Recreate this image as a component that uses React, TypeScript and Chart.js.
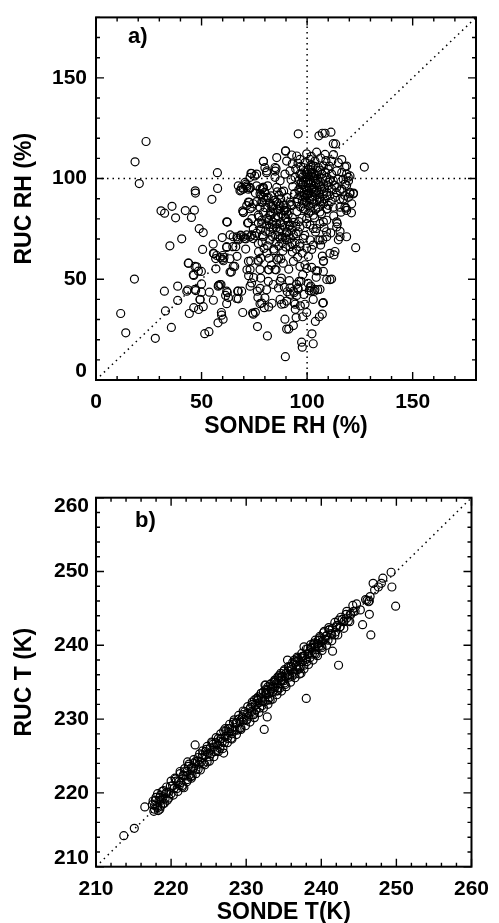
import React, { useEffect, useRef } from "react";
import { Chart, registerables } from "chart.js";

Chart.register(...registerables);

// ---------- data ----------
const rhTicks = [0, 50, 100, 150];
const tTicks = [210, 220, 230, 240, 250, 260];

const rhDiagonal: [number, number][] = [[0, 0], [180, 180]];
const rhVertical: [number, number][] = [[100, 0], [100, 180]];
const rhHorizontal: [number, number][] = [[0, 100], [180, 100]];
const tDiagonal: [number, number][] = [[210, 210], [260, 260]];

// SONDE RH (%), RUC RH (%)
const rhPairs: [number, number][] = [
  [23.7,118.4],[18.5,108.3],[20.5,97.5],[18.2,50.1],[11.7,33],[14.1,23.4],[28.1,20.7],[32.4,44.1],[32.9,34.3],[35.7,26.1],
  [30.8,84],[32.5,82.8],[36,86.2],[37.7,80.5],[35,66.6],[40.6,70.1],[38.7,46.6],[38.7,39.5],[43.9,58],[42.3,84.1],
  [45.2,80.7],[46.6,84.3],[47,93.9],[47.1,92.8],[46.3,51.9],[47.7,56.2],[43.5,44.8],[44.2,33],[46.3,35.9],[47.2,44.4],
  [48.9,75.1],[50.8,73.2],[50.5,64.8],[49.9,53.9],[50,47.7],[49.3,39.9],[48.6,35],[50.8,36.4],[51.5,23],[53.5,24],
  [53.7,43.6],[54.9,89.7],[55.5,67.5],[55.9,62.7],[56.7,60.3],[56.8,55.2],[57.5,102.9],[57.6,95.1],[57.8,28.4],[58.1,47],
  [59.2,47.4],[58.9,60.8],[59.4,33.5],[59.5,32.2],[60.2,30.2],[59.8,70.7],[60,59.9],[60.6,60.8],[61.4,42],[62.2,43.4],
  [61.9,37.9],[61.9,65.8],[62.2,78.4],[64.1,53.6],[65.7,56.4],[66.2,66.2],[66.8,61.4],[67.1,44.1],[67.4,40.3],[66.8,71.1],
  [68.5,71.9],[68.2,93.9],[69,44.1],[69.5,33.5],[69.5,84],[69.8,83.1],[70.3,70.2],[71,70.1],[70.9,65],[71.5,54.7],
  [71.8,77.9],[71,97.2],[71.4,95.6],[72.2,94.7],[72.6,88.2],[72.3,51.8],[73.3,59.1],[73.7,48.2],[73.4,102.6],[74.2,33.2],
  [74.5,32.7],[75.5,33.6],[74.7,50.8],[74.4,70.2],[74.5,75.1],[75.2,101.3],[75.5,92.8],[76.1,88.5],[76.4,44.1],[76.5,26.5],
  [76.7,41],[76.7,59.5],[76.9,77.9],[77,63.7],[77.2,80.9],[77.7,37.9],[78,50.6],[78.5,38.2],[78.8,95.1],[78.8,71.9],
  [79.1,95.6],[79,88.2],[79.3,108.6],[80,105.4],[80.8,102.9],[79.6,65.3],[79.7,35.9],[80,40.8],[80.8,44.8],[81.8,36.3],
  [81.2,21.9],[81.9,54.7],[82,60.4],[82.7,83.6],[83.2,86.2],[83.4,38.1],[83.8,78.4],[84,47.4],[84.3,64.2],[84.9,103.7],
  [85.3,105],[85.3,54.7],[85.9,93.4],[86.4,45.7],[86.5,60.4],[87.2,86.5],[87.5,89.8],[87.6,60.1],[87.8,50.6],[87.9,37.6],
  [89.1,37.9],[89.5,30.2],[89.7,11.6],[89.8,113.8],[90.3,25.3],[90.6,43.8],[91.3,25.3],[91.6,49.3],[91.9,42.5],[92.7,111.7],
  [93,107.3],[93.5,27],[93.8,43.3],[93.9,38.4],[94.4,35.1],[94.8,31],[95.1,42],[95.6,45.7],[95.8,122.2],[96.2,49],
  [96.8,36.8],[97.1,49],[97.4,18.8],[97.7,16.3],[97.9,31.4],[98.5,42.5],[99,57.2],[99.8,33.5],[100.6,61.3],[101,44.4],
  [101.7,46.6],[102,44.1],[102.3,22.9],[102.9,18],[103.4,44.1],[103.9,29.1],[104.2,54.2],[104.9,54.2],[105,44.8],[105.6,121.2],
  [105.8,31.4],[106.4,67],[107.2,122.5],[107.2,32.7],[107.4,38.2],[107.7,53.9],[107.8,59.1],[108.5,122.5],[107.4,69.6],[110.5,106.2],
  [110.8,49.8],[111.3,123],[111.6,50.1],[110.8,62.9],[112.4,117.3],[112.7,62.1],[114.3,77.6],[114.8,69.6],[115.6,73.8],[116,83.3],
  [117.2,89.8],[118.5,85.3],[119.6,98.8],[122,92.8],[123,65.7],[127.1,105.7],
  [63.5,72],[65,71.1],[66.9,70.3],[68.7,71.6],[71.4,72],[73.8,72],[75.3,71.6],[61.9,66.2],[64.8,66.2],[55.6,62.9],
  [57.2,61.8],[60,61.8],[60.3,59.2],[63.5,60.2],[43.7,58],[46.9,56.4],[48.5,54],[46.1,52.3],[65,56.4],[63.5,53.6],
  [72.2,58.9],[76.9,58.9],[73,54.8],[77.7,54.8],[81.6,54.8],[84.8,54.8],[43,44.1],[46.9,45],[50,43.6],[58.7,47.4],
  [57.9,46.6],[61.9,44.1],[67.4,44.1],[49.3,40],[55.6,39.6],[62.7,40.9],[66.6,40.5],[73,46.6],[77.7,45.5],[81.6,49],
  [87.2,49],[88.7,58],[93.5,58.9],[96.6,56.4],[99.8,55.3],[102.2,55.9],[107.7,58.9],[91.9,45.8],[93.5,44.1],[95.8,45],
  [101.4,45.8],[103.7,45],[106.1,45],[109.3,49.9],[87.2,40],[90.3,39.2],[94.3,37.6],[99,37.6],[102.9,40],[107.7,38.4],
  [69,95.6],[71.4,96.4],[73,95.2],[77.7,94.8],[80,93.2],[81.6,90.7],[79.3,90.7],[72.2,88.3],[73.8,85.8],[69.8,83.3],
  [73.8,80.1],[77.7,85.8],[79.3,83.3],[76.9,81.8],[78.5,79.3],[80.9,80.1],[82.4,81.8],[84,86.7],[87.2,85],[85.6,88.3],
  [88.7,86.7],[91.9,88.3],[90.3,83.4],[88.7,81.8],[80.9,76.9],[84,75.2],[82.4,73.6],[87.2,75.2],[84.8,72],[87.2,70.3],
  [90.3,73.6],[91.9,76.9],[93.5,72],[95.8,73.6],[98.2,70.3],[96.6,67.8],[94.3,67.8],[91.9,66.2],[99.8,80.1],[102.9,81.8],
  [101.4,76.9],[104.5,75.2],[107.7,78.5],[109.2,73.6],[106.1,69.5],[102.9,67],[99.8,65.4],[96.6,93.2],[99.8,91.5],[102.9,93.2],
  [106.1,89.9],[109.3,91.5],[95.1,88.3],[98.2,85],[101.4,85.8],[106.1,83.4],[109.3,85],
  [113.5,117.2],[89.8,113.6],[79.3,108.5],[73.7,102.5],[68.7,94.3],[61.9,78.5],[72.2,78.1],
  [95.1,111.2],[99.8,112.3],[104.5,113.1],[103.7,108.7],[108.5,112],[111.7,108.7],[114.8,107.9],[117.9,105.8],[85.6,110.4],[90.3,108.7],
  [84.8,105.5],[80.9,103.8],[76.1,102.2],[73,100.6],[70.6,98.1],[67.4,96.4],[69.8,94.8],[73,95.6],[76.1,96.4],[79.3,95.6],
  [77.7,92.4],[80.9,90.7],[78.5,88.3],[74.5,87.5],[71.4,86.6],[73,85],[84.8,100.6],[87.2,98.9],[89.5,102.2],[91.9,103.8],
  [94.3,100.6],[96.6,102.2],[85.6,95.6],[87.9,93.2],[90.3,90.7],[86.4,87.5],[84,85],[82.4,81.8],[86.4,80.9],[89.5,84.2],[92.7,86.6],
  [96.6,109.5],[99.0,107.9],[101.4,109.5],[98.2,105.5],[100.6,104.6],[102.9,106.3],[105.3,105.5],[107.7,106.3],[110.0,104.6],[97.4,102.2],
  [99.8,100.6],[102.1,102.2],[104.5,101.4],[106.9,102.2],[109.3,100.6],[111.6,102.2],[114.0,103.8],[116.4,103.0],[118.7,102.2],[98.2,98.1],
  [100.6,97.3],[102.9,98.9],[105.3,98.1],[107.7,97.3],[110.0,98.1],[112.4,98.9],[114.8,99.7],[117.1,99.7],[119.5,100.6],[97.4,94.8],
  [99.8,94.0],[102.1,94.8],[104.5,94.0],[106.9,94.8],[109.3,93.2],[111.6,94.8],[114.0,95.6],[116.4,94.8],[118.7,96.5],[96.6,91.6],
  [99.0,90.7],[101.4,89.9],[103.7,91.6],[106.1,90.7],[108.5,89.9],[110.8,91.6],[113.2,90.7],[115.6,89.9],[117.9,91.6],[120.3,93.2],
  [98.2,87.5],[100.6,86.7],[102.9,87.5],[105.3,85.8],[107.7,87.5],[110.0,86.7],[112.4,85.8],[115.6,85.8],[118.7,84.2],[121.9,92.4],[121.1,87.5],
  [98.9,103.5],[101.2,99.2],[103.4,96.1],[100.2,92.3],[97.8,96.7],[104.8,103.9],[102.6,91.2],[99.5,88.9],[105.9,88.4],[103.1,100.4],
  [96.4,99.3],[101.8,106.7],[100.9,95.4],[104.2,97.6],[98.5,93.1],[102.3,103.1],[106.4,95.9],[99.3,98.6],[103.9,93.4],[101.6,101.2],
  [78.5,77.6],[82.4,76.0],[85.6,77.6],[89.5,76.0],[92.7,74.4],[96.6,76.0],[99.8,77.6],[102.9,75.2],[106.1,77.6],[109.3,79.3],
  [114.0,78.5],[117.9,85.8],[120.3,92.4],[121,83],[114.0,76.0],[115.6,71.1],[118.7,71.1],[109.3,71.1],[113.2,63.8],[105.3,69.5],
  [101.4,69.5],[96.6,66.2],[92.7,67.8],[90.3,69.5],[86.4,71.1],[82.4,69.5],[79.3,71.1],[76.9,67.8],[73.0,71.1],[69.8,71.1],[67.4,69.5],
  [86.5,73.5],[88.2,71.0],[90.5,73.0],[92.1,70.2],[87.4,78.0],[89.8,80.6],[93.6,78.2],[91.0,82.1],[85.0,80.5],[94.8,72.6],
  [88.0,68.2],[91.6,76.4],[79.8,93.0],[80.5,89.5],[78.2,91.8],[81.3,96.4],[90.2,85.5],[92.4,87.1],[89.0,84.0],[103.5,80.5],
  [106.8,82.5],[109.5,84.8],[104.0,73.5],[108.0,75.6],[111.2,73.0],[100.7,82.8],[97.5,80.3],[95.2,83.6],[112.6,81.4],[98.9,71.8],
  [102.2,64.8],[107.2,61.5],[95.5,61.0],[93.0,63.5],[88.5,64.0],[84.2,65.0],[81.0,63.0],[78.0,60.5],[85.8,59.6],[83.1,57.0],
  [91.3,55.0],[97.9,52.3],[104.3,51.0],[100.5,48.0],[95.0,47.5],[89.2,46.0],
  [112.5,111.9],[116.4,109.4],[118.7,106.2],[120.3,101.3],[118,97.2],[115.6,93.9],[119.6,90.7],
  [97.0,106.0],[99.6,103.0],[101.9,104.3],[104.0,105.9],[106.2,104.2],[108.7,103.1],[97.9,100.8],[100.3,101.9],[102.6,100.9],[105.0,99.6],
  [107.3,100.1],[109.9,96.4],[97.2,97.5],[99.1,95.8],[101.7,97.9],[103.8,98.7],[105.8,96.8],[108.3,95.3],[96.0,94.4],[98.6,92.0],
  [100.9,92.8],[103.2,94.3],[105.6,93.1],[107.9,92.3],[95.5,90.0],[97.7,89.1],[100.0,88.3],[102.3,89.3],[104.6,89.0],[106.9,88.6],
  [96.9,85.9],[99.2,84.6],[101.8,83.9],[104.1,84.8],[94.0,92.5],[93.2,96.0],[94.6,104.8],[92.4,99.4],[95.7,107.6],[110.8,99.3],
  [112.9,96.7],[111.4,88.6],[113.8,93.0],[108.9,108.9],[106.4,110.2],[102.0,111.0],
  [83.0,91.4],[84.6,89.2],[86.8,91.7],[88.9,93.8],[82.1,87.7],[83.8,83.0],[85.9,84.7],[87.8,82.4],[80.1,85.6],[81.7,79.1],
  [83.5,77.2],[85.4,75.6],[88.4,77.0],[90.9,78.6],[93.0,80.6],[94.7,76.3],[96.1,78.6],[89.6,70.6],[91.4,72.0],[85.3,68.5],
  [83.6,71.2],[80.3,73.9],[77.9,74.6],[76.0,72.9],[78.7,68.3],[81.2,66.6],[86.6,66.5],[89.9,66.0],[94.9,64.9],[97.7,63.0]
];

// SONDE T (K), RUC T (K)
const tPairs: [number, number][] = [
  [213.7,214.2],[215.1,215.2],[216.5,218.1],[223.2,226.5],[222.2,224.2],[221.7,220.7],[227.0,225.4],[232.4,228.6],[232.8,230.3],[238.0,232.8],
  [242.3,237.3],[241.5,239.2],[246.6,241.4],[245.5,242.8],[246.4,244.2],[249.9,245.3],[249.4,247.9],[249.3,249.9],[246.4,246.0],[245.9,246.2],
  [244.7,245.6],[232.6,234.6],
  [248.2,249.1],[248.0,248.4],[247.6,247.9],[247.1,247.5],[246.9,248.4],[246.5,246.6],[246.3,245.9],[246.1,246.1],[245.2,244.8],[244.3,244.6],
  [243.9,244.1],[243.4,243.7],[243.0,243.2],[242.5,242.5],
  [242.1,242.7],[241.9,241.8],[241.4,241.4],[241.0,242.1],[240.6,241.2],[240.1,240.5],[239.7,240.7],[239.3,239.4],[239.0,240.3],[238.6,239.6],
  [238.2,238.9],[237.7,239.8],[237.5,238.5],[236.8,237.8],[236.4,238.0],[236.0,237.1],[235.5,238.0],[235.1,236.7],[234.6,236.2],[234.2,235.7],
  [233.8,235.3],[233.3,234.8],[232.9,234.4],[232.5,234.6],[232.0,233.5],[231.6,233.0],[231.1,232.6],[234.6,235.3],[235.7,236.0],[236.8,236.7],
  [237.3,236.2],[234.2,233.9],[232.9,232.6],[232.7,233.5],
  [217.5,218.4],[217.7,217.5],[217.8,218.3],[218.0,219.4],[218.1,218.2],[218.3,217.6],[218.4,219.0],[218.6,219.7],[218.7,219.0],[218.9,218.5],
  [219.0,220.3],[219.2,219.2],[219.4,220.1],[219.5,219.0],[219.7,220.1],[219.9,220.9],[220.0,219.9],[220.2,221.0],[220.4,220.6],[220.5,222.0],
  [220.7,221.6],[220.8,220.6],[221.0,221.5],[221.2,222.6],[221.3,221.4],[221.5,220.8],[221.7,222.3],[221.8,222.9],[222.0,222.3],[222.2,221.8],
  [222.3,223.6],[222.5,222.5],[222.7,223.4],[222.8,222.3],[223.0,223.4],[223.2,224.2],[223.3,223.2],[223.5,224.3],[223.7,223.9],[223.8,225.3],
  [224.0,224.2],[224.2,225.2],[224.3,224.0],[224.5,225.1],[224.7,225.9],[224.8,224.2],[225.0,225.4],[225.2,226.1],[225.3,225.3],[225.5,226.8],
  [225.7,226.2],[225.8,225.6],[226.0,226.8],[226.2,226.5],[226.3,227.4],[226.5,226.0],[226.7,227.4],[226.8,226.9],[227.0,228.4],[227.2,227.6],
  [227.3,228.4],[227.5,227.4],[227.7,228.2],[227.8,228.7],[228.0,227.4],[228.2,228.5],[228.3,229.6],[228.5,228.5],[228.7,229.4],[228.8,228.5],
  [229.0,230.0],[229.2,229.6],[229.3,228.8],[229.5,230.3],[229.7,229.9],[229.8,231.0],[230.0,229.8],[230.2,230.8],[230.3,230.4],[230.5,231.4],
  [230.7,231.0],[230.8,232.0],[231.0,230.6],[231.2,231.9],[231.3,231.3],[231.5,232.5],[231.7,232.2],[231.8,231.5],[232.0,232.9],[232.2,232.4],
  [232.3,233.7],[232.5,232.4],[232.7,233.3],[232.8,233.9],[233.0,233.4],[233.2,232.6],[233.3,234.1],[233.5,233.6],[233.7,235.0],[233.8,234.3],
  [234.0,234.8],[234.2,234.2],[234.3,235.5],[234.5,234.2],[234.7,235.2],[234.8,235.8],[235.0,235.2],[235.2,234.7],[235.3,236.2],[235.5,235.9],
  [235.7,237.0],[235.8,235.7],[236.0,236.7],[236.2,236.3],[236.3,237.4],[236.5,236.1],[236.7,237.3],[236.8,238.2],[237.0,237.3],[237.2,237.0],
  [237.3,238.3],[237.5,237.8],[237.7,237.3],[237.8,238.6],[238.0,238.1],[238.2,239.5],[238.3,238.8],[238.5,238.3],[238.7,239.6],[238.8,238.8],
  [239.0,240.1],[239.2,239.8],[239.3,238.8],[239.5,240.2],[239.7,239.9],[239.8,241.0],[240.0,239.9],[240.2,240.6],[240.3,241.7],[240.5,240.8],
  [240.7,241.3],[240.9,240.7],[241.1,242.1],[241.3,241.6],[241.5,242.3],[241.8,241.4],[242.0,242.5],[242.3,243.4],[242.5,242.5],[242.8,243.5],
  [243.0,243.2],[243.3,244.2],[243.6,243.3],[243.9,244.3],[244.2,245.4],[244.5,244.6],
  [221.1,221.0],[221.6,222.4],[222.1,222.9],[222.6,222.2],[223.1,224.0],[223.6,223.2],[224.1,224.8],[224.6,225.6],[225.1,224.9],[225.6,226.6],
  [226.1,225.7],[226.6,227.3],[227.1,226.8],[227.6,228.7],[228.1,228.0],[228.6,229.5],[229.1,228.7],[229.6,230.6],[230.1,229.9],[230.6,231.6],
  [231.1,230.8],[231.6,232.7],[232.1,231.8],[232.6,233.6],[233.1,232.9],[233.6,234.5],[234.1,233.8],[234.6,235.7],[235.1,234.9],[235.6,236.5],
  [236.1,235.8],[236.6,237.8],[237.1,236.8],[237.6,238.5],[238.1,237.8],[238.6,239.7],[239.1,238.9],[239.6,240.7],[240.1,239.7],
  [218.2,219.9],[218.5,217.8],[218.8,220.2],[219.1,218.6],[219.4,220.8],[219.7,219.3],[220.0,221.6],[220.3,219.7],[220.6,221.9],[220.9,220.2],
  [221.2,222.9],[221.5,221.0],[221.8,223.3],[222.1,221.5],[222.4,223.9],[222.7,222.0],[223.0,224.5],[223.3,222.6],[223.6,224.8],[223.9,223.1],
  [224.2,225.7],[224.5,223.8],[224.8,226.3],[225.1,224.3],[225.4,226.9],[225.7,224.9],[226.0,227.5],[226.3,225.6],[226.6,228.0],[226.9,226.0],
  [227.2,228.7],[227.5,226.8],[227.8,229.3],[228.1,227.3],[228.4,229.9],[228.7,227.9],[229.0,230.5],[229.3,228.6],[229.6,231.1],[229.9,229.1],
  [230.2,231.7],[230.5,229.6],[230.8,232.3],[231.1,230.2],[231.4,232.8],[231.7,230.9],[232.0,233.5],[232.3,231.5],[232.6,234.0],[232.9,232.0],
  [233.2,234.7],[233.5,232.7],[233.8,235.2],[234.1,233.3],[234.4,235.9],[234.7,233.8],[235.0,236.5],[235.3,234.4],[235.6,237.1],[235.9,235.0],
  [236.2,237.7],[236.5,235.6],[236.8,238.4],[237.1,236.1],[237.4,238.9],[237.7,236.8],[238.0,239.5],[238.3,237.4],[238.6,240.1],[238.9,238.0],
  [239.2,240.7],[239.5,238.6],[239.8,241.2],[240.1,239.3],[240.4,241.9],[240.7,240.0],[241.0,242.4],[241.4,240.6],[241.8,243.1],[242.2,241.4],
  [242.6,243.8],[243.0,242.3],[243.4,244.6],[243.8,243.2],
  [217.6,218.9],[217.9,219.0],[218.2,218.0],[218.5,219.4],[218.9,219.3],[219.3,219.9],[217.8,217.8],[218.6,218.2]
];

// ---------- styling helpers ----------
const FONT = '"Liberation Sans", Arial, Helvetica, sans-serif';

function framePlugin(minorStep: number, majorStep: number, label: string, dx: number, dy: number) {
  return {
    id: "frameTicks",
    afterDraw(chart: any) {
      const { ctx, chartArea } = chart;
      const { left, right, top, bottom } = chartArea;
      const xs = chart.scales.x;
      const ys = chart.scales.y;
      ctx.save();
      ctx.strokeStyle = "#000";
      ctx.lineWidth = 1.4;
      ctx.beginPath();
      const nx = Math.round((xs.max - xs.min) / minorStep);
      for (let i = 0; i <= nx; i++) {
        const v = xs.min + i * minorStep;
        const r = v / majorStep;
        const len = Math.abs(r - Math.round(r)) < 1e-6 ? 8 : 4;
        const p = xs.getPixelForValue(v);
        ctx.moveTo(p, bottom); ctx.lineTo(p, bottom - len);
        ctx.moveTo(p, top); ctx.lineTo(p, top + len);
      }
      const ny = Math.round((ys.max - ys.min) / minorStep);
      for (let i = 0; i <= ny; i++) {
        const v = ys.min + i * minorStep;
        const r = v / majorStep;
        const len = Math.abs(r - Math.round(r)) < 1e-6 ? 8 : 4;
        const p = ys.getPixelForValue(v);
        ctx.moveTo(left, p); ctx.lineTo(left + len, p);
        ctx.moveTo(right, p); ctx.lineTo(right - len, p);
      }
      ctx.stroke();
      ctx.lineWidth = 2;
      ctx.strokeRect(left, top, right - left, bottom - top);
      ctx.fillStyle = "#000";
      ctx.font = `bold 22px ${FONT}`;
      ctx.textBaseline = "middle";
      ctx.textAlign = "left";
      ctx.fillText(label, left + dx, top + dy);
      ctx.restore();
    },
  };
}

function toPts(pairs: [number, number][]) {
  return pairs.map(([x, y]) => ({ x, y }));
}

function refLine(pairs: [number, number][]) {
  return {
    type: "scatter" as const,
    data: toPts(pairs),
    showLine: true,
    borderColor: "#000",
    borderWidth: 1.5,
    borderDash: [1.5, 4],
    pointRadius: 0,
    fill: false,
    order: 2,
  };
}

function buildConfig(opts: {
  pairs: [number, number][];
  lines: [number, number][][];
  min: number;
  max: number;
  ticks: number[];
  xTitle: string;
  yTitle: string;
  padTop: number;
  xAxisHeight: number;
  xTitlePadBottom: number;
  yTickPad: number;
  yLabelShift: (v: number) => string | string[];
  plugin: any;
}) {
  const tickFont = { family: FONT, size: 21, weight: "bold" as const };
  const titleFont = { family: FONT, size: 23, weight: "bold" as const, lineHeight: 1 };
  return {
    type: "scatter" as const,
    data: {
      datasets: [
        {
          data: toPts(opts.pairs),
          pointStyle: "circle",
          pointRadius: 4,
          pointBorderWidth: 1.2,
          pointBorderColor: "#000",
          pointBackgroundColor: "rgba(0,0,0,0)",
          showLine: false,
          order: 1,
        },
        ...opts.lines.map((l) => refLine(l)),
      ],
    },
    options: {
      responsive: false,
      maintainAspectRatio: false,
      animation: false as const,
      events: [],
      layout: { padding: { left: 0, right: 23, top: opts.padTop, bottom: 0 } },
      plugins: { legend: { display: false }, tooltip: { enabled: false } },
      scales: {
        x: {
          type: "linear" as const,
          min: opts.min,
          max: opts.max,
          grid: { display: false, drawTicks: false },
          border: { display: false },
          afterBuildTicks: (s: any) => { s.ticks = opts.ticks.map((v) => ({ value: v })); },
          afterFit: (s: any) => { s.height = opts.xAxisHeight; },
          ticks: {
            color: "#000",
            font: tickFont,
            padding: 10,
            maxRotation: 0,
            autoSkip: false,
            callback: (v: any) => String(v),
          },
          title: {
            display: true,
            text: opts.xTitle,
            color: "#000",
            font: titleFont,
            padding: { top: 0, bottom: opts.xTitlePadBottom },
          },
        },
        y: {
          type: "linear" as const,
          min: opts.min,
          max: opts.max,
          grid: { display: false, drawTicks: false },
          border: { display: false },
          afterBuildTicks: (s: any) => { s.ticks = opts.ticks.map((v) => ({ value: v })); },
          afterFit: (s: any) => { s.width = 96; },
          ticks: {
            color: "#000",
            font: { ...tickFont, lineHeight: 0.8 },
            padding: opts.yTickPad,
            autoSkip: false,
            callback: (v: any) => opts.yLabelShift(Number(v)),
          },
          title: {
            display: true,
            text: opts.yTitle,
            color: "#000",
            font: titleFont,
            padding: { top: 13, bottom: 0 },
          },
        },
      },
    },
    plugins: [opts.plugin],
  };
}

export default function App() {
  const topRef = useRef<HTMLCanvasElement | null>(null);
  const botRef = useRef<HTMLCanvasElement | null>(null);

  useEffect(() => {
    Chart.defaults.font.family = FONT;
    const c1 = new Chart(
      topRef.current as HTMLCanvasElement,
      buildConfig({
        pairs: rhPairs,
        lines: [rhDiagonal, rhVertical, rhHorizontal],
        min: 0,
        max: 180,
        ticks: rhTicks,
        xTitle: "SONDE RH (%)",
        yTitle: "RUC RH (%)",
        padTop: 13,
        xAxisHeight: 80,
        xTitlePadBottom: 21.5,
        yTickPad: 9,
        yLabelShift: (v) => (v === rhTicks[0] ? [String(v), ""] : String(v)),
        plugin: framePlugin(10, 50, "a)", 32, 20),
      }) as any
    );
    const c2 = new Chart(
      botRef.current as HTMLCanvasElement,
      buildConfig({
        pairs: tPairs,
        lines: [tDiagonal],
        min: 210,
        max: 260,
        ticks: tTicks,
        xTitle: "SONDE T(K)",
        yTitle: "RUC T (K)",
        padTop: 37.7,
        xAxisHeight: 56.3,
        xTitlePadBottom: -1.5,
        yTickPad: 7,
        yLabelShift: (v) =>
          v === tTicks[0] ? [String(v), ""] : v === tTicks[tTicks.length - 1] ? ["", String(v)] : String(v),
        plugin: framePlugin(2, 10, "b)", 39, 23),
      }) as any
    );
    return () => {
      c1.destroy();
      c2.destroy();
    };
  }, []);

  return (
    <div style={{ position: "absolute", left: 0, top: 0, width: 499, height: 923, background: "#fff", overflow: "hidden" }}>
      <canvas ref={topRef} width={499} height={460} style={{ position: "absolute", left: 0, top: 0, display: "block" }} />
      <canvas ref={botRef} width={499} height={463} style={{ position: "absolute", left: 0, top: 460, display: "block" }} />
    </div>
  );
}
